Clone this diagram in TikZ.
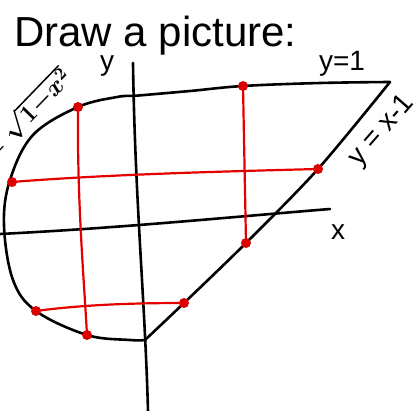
\documentclass[tikz,border=0pt]{standalone}
\usepackage{fontspec}
\setmainfont{Liberation Sans}
\begin{document}
\begin{tikzpicture}[x=1pt,y=-1pt,
  ink/.style={line width=2.6pt,black,line cap=round,line join=round},
  redline/.style={line width=2.2pt,red!90!black,line cap=round},
  rdot/.style={circle,fill=red!85!black,inner sep=0pt,minimum size=10pt},
  lbl/.style={inner sep=0pt,font=\fontsize{28}{30}\selectfont}]
\useasboundingbox (0,0) rectangle (418,411);
% title
\node[inner sep=0pt,anchor=base west,font=\fontsize{42}{46}\selectfont] (title) at (14,47) {Draw a picture:};
% key points
\coordinate (tl) at (133,96);
\coordinate (tr) at (390,82);
\coordinate (bj) at (145,340);
% axes
\coordinate (ytop) at (133,63);
\coordinate (ybot) at (148,411);
\coordinate (xl) at (0,234);
\coordinate (xr) at (330,209);
\draw[ink] (ytop) .. controls (135,200) and (145,300) .. (ybot);
\draw[ink] (xl) .. controls (120,228) and (220,218) .. (xr);
\node[lbl] (ylab) at (107,66) {y};
\node[lbl] (xlab) at (338,232) {x};
% region boundary
\draw[ink] plot[smooth,tension=0.6] coordinates {(133,96) (190,91) (243,86) (320,83) (390,82)};
\draw[ink] plot[smooth,tension=0.5] coordinates {(390,82) (318,169) (246,243) (184,303) (145,340)};
\draw[ink] plot[smooth,tension=0.6] coordinates {(133,96) (117,97) (78,107) (33,135) (10,180) (4,225) (13,280) (36,311) (87,335) (130,340) (145,340)};
% labels
\node[lbl] (l1) at (342,64) {y=1};
\node[lbl,rotate=49] (l2) at (382,131) {y = x-1};
\node[inner sep=0pt,rotate=46,font={\fontsize{24}{26}\selectfont\boldmath}] (l3) at (26,115) {$=\sqrt{1{-}x^2}$};
% red grid lines
\node[rdot] (a1) at (78,107) {};
\node[rdot] (a2) at (87,335) {};
\node[rdot] (b1) at (243,86) {};
\node[rdot] (b2) at (246,243) {};
\node[rdot] (c1) at (12,182) {};
\node[rdot] (c2) at (318,169) {};
\node[rdot] (d1) at (36,311) {};
\node[rdot] (d2) at (184,303) {};
\draw[redline] (a1.center) .. controls (77,200) and (84,280) .. (a2.center);
\draw[redline] (b1.center) -- (b2.center);
\draw[redline] (c1.center) .. controls (100,175) and (200,172) .. (c2.center);
\draw[redline] (d1.center) .. controls (80,305) and (130,303) .. (d2.center);
\end{tikzpicture}
\end{document}
